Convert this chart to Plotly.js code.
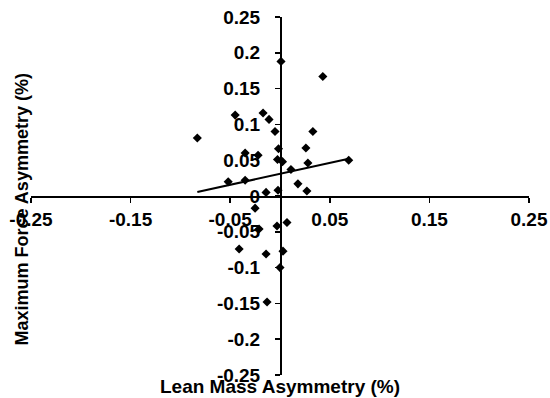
<!DOCTYPE html>
<html>
<head>
<meta charset="utf-8">
<script src="https://cdn.plot.ly/plotly-3.0.1.min.js"></script>
<style>html,body{margin:0;padding:0;background:#fff;}#chart{width:550px;height:398px;}</style>
</head>
<body>
<div id="chart"></div>
<script>
// Lean mass asymmetry (x) vs maximum force asymmetry (y)
var leanMass = [-0.083, -0.045, -0.017, -0.011, -0.005, 0.001, 0.043, 0.033, -0.0015, -0.035, -0.022, -0.0025, 0.0025, 0.026, 0.028, 0.011, 0.069, 0.018, 0.027, -0.002, -0.052, -0.035, -0.014, -0.025, -0.003, 0.007, -0.021, -0.041, -0.014, 0.003, 0.000, -0.013];
var maxForce = [0.081, 0.113, 0.116, 0.107, 0.090, 0.188, 0.167, 0.090, 0.066, 0.060, 0.057, 0.051, 0.048, 0.067, 0.046, 0.037, 0.050, 0.017, 0.007, 0.008, 0.020, 0.022, 0.005, -0.017, -0.042, -0.037, -0.046, -0.074, -0.081, -0.077, -0.100, -0.148];
// Linear trendline endpoints
var trendX = [-0.083, 0.069];
var trendY = [0.0056, 0.052];

var xTicks = [-0.25, -0.15, -0.05, 0.05, 0.15, 0.25];
var xTickText = ['-0.25', '-0.15', '-0.05', '0.05', '0.15', '0.25'];
var yTicks = [0.25, 0.2, 0.15, 0.1, 0.05, 0, -0.05, -0.1, -0.15, -0.2, -0.25];
var yTickText = ['0.25', '0.2', '0.15', '0.1', '0.05', '0', '-0.05', '-0.1', '-0.15', '-0.2', '-0.25'];

var font = 'Liberation Sans, Arial, sans-serif';

var traces = [
  {x: leanMass, y: maxForce, type: 'scatter', mode: 'markers',
   marker: {symbol: 'diamond', size: 7, color: '#000'}, cliponaxis: false},
  {x: trendX, y: trendY, type: 'scatter', mode: 'lines',
   line: {color: '#000', width: 2}}
];

var layout = {
  width: 550, height: 398,
  margin: {l: 31, r: 21, t: 17, b: 23},
  paper_bgcolor: '#fff', plot_bgcolor: '#fff',
  showlegend: false,
  font: {family: font, color: '#000'},
  xaxis: {
    range: [-0.25, 0.25], anchor: 'free', position: 0.5,
    showgrid: false, zeroline: false,
    showline: true, linecolor: '#000', linewidth: 1.5,
    ticks: 'outside', ticklen: 5, tickwidth: 1.5, tickcolor: '#000',
    tickvals: xTicks, ticktext: xTickText,
    tickfont: {family: font, size: 19, color: '#000', weight: 'bold'},
    ticklabelstandoff: 1
  },
  yaxis: {
    range: [-0.25, 0.25], anchor: 'free', position: 0.5,
    showgrid: false, zeroline: false,
    showline: true, linecolor: '#000', linewidth: 1.5,
    ticks: 'outside', ticklen: 5, tickwidth: 1.5, tickcolor: '#000',
    tickvals: yTicks, ticktext: yTickText,
    tickfont: {family: font, size: 19, color: '#000', weight: 'bold'},
    ticklabelstandoff: 11
  },
  annotations: [
    {text: '<b>Lean Mass Asymmetry (%)</b>', xref: 'paper', yref: 'paper',
     x: 0.5, y: -0.031, xanchor: 'center', yanchor: 'middle', showarrow: false,
     font: {family: font, size: 19, color: '#000'}},
    {text: '<b>Maximum Force Asymmetry (%)</b>', xref: 'paper', yref: 'paper',
     x: -0.019, y: 0.461, xanchor: 'center', yanchor: 'middle', textangle: -90, showarrow: false,
     font: {family: font, size: 18, color: '#000'}}
  ]
};

Plotly.newPlot('chart', traces, layout, {displayModeBar: false, staticPlot: true});
</script>
</body>
</html>
